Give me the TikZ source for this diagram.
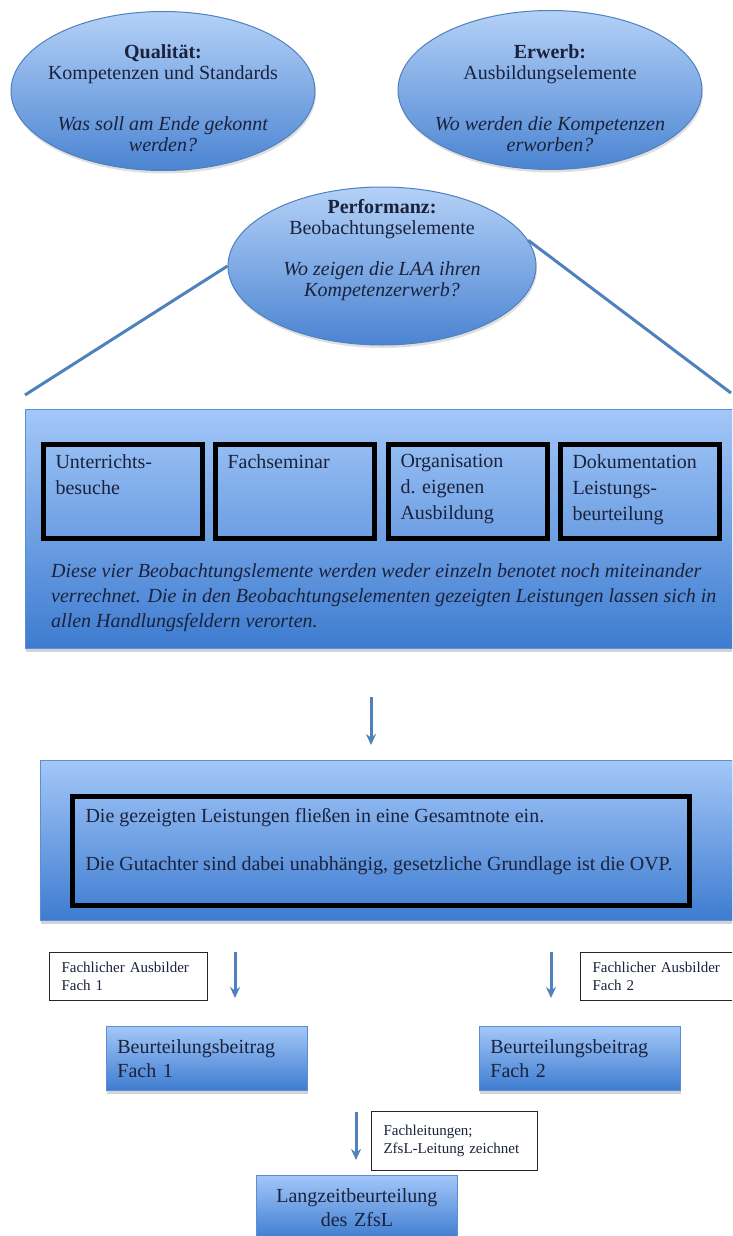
\documentclass[tikz,border=0pt]{standalone}
\usepackage{fontspec}
\setmainfont{Liberation Serif}
\usetikzlibrary{arrows.meta,positioning,shapes.geometric,shadows}
\definecolor{ink}{HTML}{1A223C}
\definecolor{bubbleTop}{HTML}{B4D1F7}
\definecolor{bubbleBot}{HTML}{4B84D2}
\definecolor{bubbleBd}{HTML}{4F81BD}
\definecolor{panelTop}{HTML}{A3C7F8}
\definecolor{panelBot}{HTML}{3E7CD0}
\definecolor{panelBd}{HTML}{5A8FD6}
\definecolor{flowBlue}{HTML}{4F81BD}
\tikzset{
  bubble/.style={
    ellipse, draw=bubbleBd, line width=1pt,
    top color=bubbleTop, bottom color=bubbleBot,
    minimum width=304pt, minimum height=159pt,
    drop shadow={shadow xshift=1pt, shadow yshift=-3pt, opacity=0.25}
  },
  bubbletext/.style={align=center, text=ink, font=\fontsize{20}{21}\selectfont},
  panel/.style={
    rectangle, draw=panelBd, line width=0.8pt,
    top color=panelTop, bottom color=panelBot,
    anchor=north west,
    drop shadow={shadow xshift=1pt, shadow yshift=-4pt, opacity=0.35}
  },
  tile/.style={
    panel, minimum width=201pt, minimum height=64pt,
    text width=179pt, inner xsep=11pt, align=left, text=ink
  },
  slot/.style={
    rectangle, draw=black, line width=5pt, anchor=north west,
    inner xsep=12pt, inner ysep=10pt, text=ink,
    font=\fontsize{20}{26}\selectfont
  },
  note/.style={
    rectangle, draw=black!85, line width=1pt, fill=white, anchor=north west,
    minimum width=158pt, minimum height=48pt, text width=134pt,
    inner xsep=12pt, align=left, text=ink,
    font=\fontsize{15}{18}\selectfont
  },
  caption/.style={anchor=north west, inner sep=0pt, align=left, text=ink,
    font=\fontsize{20}{25}\selectfont\itshape},
  flow/.style={-{Stealth[length=11pt,width=10pt]}, line width=3pt, draw=flowBlue},
  spoke/.style={line width=3pt, draw=flowBlue}
}

\begin{document}
\begin{tikzpicture}[x=1pt,y=-1pt,font=\fontsize{20}{24}\selectfont]
  \useasboundingbox (0,0) rectangle (732,1236);
  \clip (0,0) rectangle (732,1236);

  % guiding questions
  \node[bubble] (quali) at (163,91) {};
  \node[bubbletext] (qualiTxt) at (163,98)
    {\textbf{Qualität:}\\Kompetenzen und Standards\\[30pt]\textit{Was soll am Ende gekonnt}\\\textit{werden?}};
  \node[bubble] (erwerb) at (550,90) {};
  \node[bubbletext] (erwerbTxt) at (550,98)
    {\textbf{Erwerb:}\\Ausbildungselemente\\[30pt]\textit{Wo werden die Kompetenzen}\\\textit{erworben?}};

  % spokes from the performance bubble
  \coordinate (spokeL) at (25,395);
  \coordinate (spokeR) at (731,393);
  \node[bubble, minimum width=308pt, minimum height=158pt] (perf) at (382,266) {};
  \draw[spoke] (perf.west) -- (spokeL);
  \draw[spoke] (perf.10) -- (spokeR);
  \node[bubbletext] (perfTxt) at (382,250)
    {\textbf{Performanz:}\\Beobachtungselemente\\[20pt]\textit{Wo zeigen die LAA ihren}\\\textit{Kompetenzerwerb?}};

  % observation elements
  \node[panel, minimum width=708pt, minimum height=239pt] (obs) at (25,409) {};
  \foreach \x/\name/\txt in {41/besuch/{Unterrichts-\\besuche}, 213/seminar/{Fachseminar},
      386/orga/{Organisation\\d. eigenen\\Ausbildung}, 558/doku/{Dokumentation\\Leistungs-\\beurteilung}}
    \node[slot, minimum width=159pt] (\name) at (\x,442) {\parbox[c][74pt][t]{135pt}{\raggedright\txt}};
  \node[caption] (obsNote) at (51,563)
    {Diese vier Beobachtungslemente werden weder einzeln benotet noch miteinander\\
     verrechnet. Die in den Beobachtungselementen gezeigten Leistungen lassen sich in\\
     allen Handlungsfeldern verorten.};

  % overall grade
  \coordinate (toGradeS) at (371,697);
  \coordinate (toGradeE) at (371,745);
  \draw[flow] (toGradeS) -- (toGradeE);
  \node[panel, minimum width=692pt, minimum height=160pt] (grade) at (40,760) {};
  \node[slot, inner xsep=13pt, inner ysep=12pt] (gradeTxt) at (70,794)
    {\parbox[c][85pt][t]{591pt}{Die gezeigten Leistungen fließen in eine Gesamtnote ein.\\[22pt]
     Die Gutachter sind dabei unabhängig, gesetzliche Grundlage ist die OVP.}};

  % subject contributions
  \node[note] (ausb1) at (49,952) {Fachlicher Ausbilder\\Fach 1};
  \node[note] (ausb2) at (580,952) {Fachlicher Ausbilder\\Fach 2};
  \coordinate (toB1S) at (235,952);
  \coordinate (toB1E) at (235,998);
  \coordinate (toB2S) at (551,952);
  \coordinate (toB2E) at (551,998);
  \draw[flow] (toB1S) -- (toB1E);
  \draw[flow] (toB2S) -- (toB2E);
  \node[tile] (beitrag1) at (106,1026) {Beurteilungsbeitrag\\Fach 1};
  \node[tile] (beitrag2) at (479,1026) {Beurteilungsbeitrag\\Fach 2};

  % final assessment
  \coordinate (toLzS) at (356,1112);
  \coordinate (toLzE) at (356,1160);
  \draw[flow] (toLzS) -- (toLzE);
  \node[note, minimum width=166pt, minimum height=59pt, text width=142pt] (leitung) at (371,1111)
    {Fachleitungen;\\ZfsL-Leitung zeichnet};
  \node[tile, align=center] (langzeit) at (256,1175) {Langzeitbeurteilung\\des ZfsL};
\end{tikzpicture}
\end{document}
